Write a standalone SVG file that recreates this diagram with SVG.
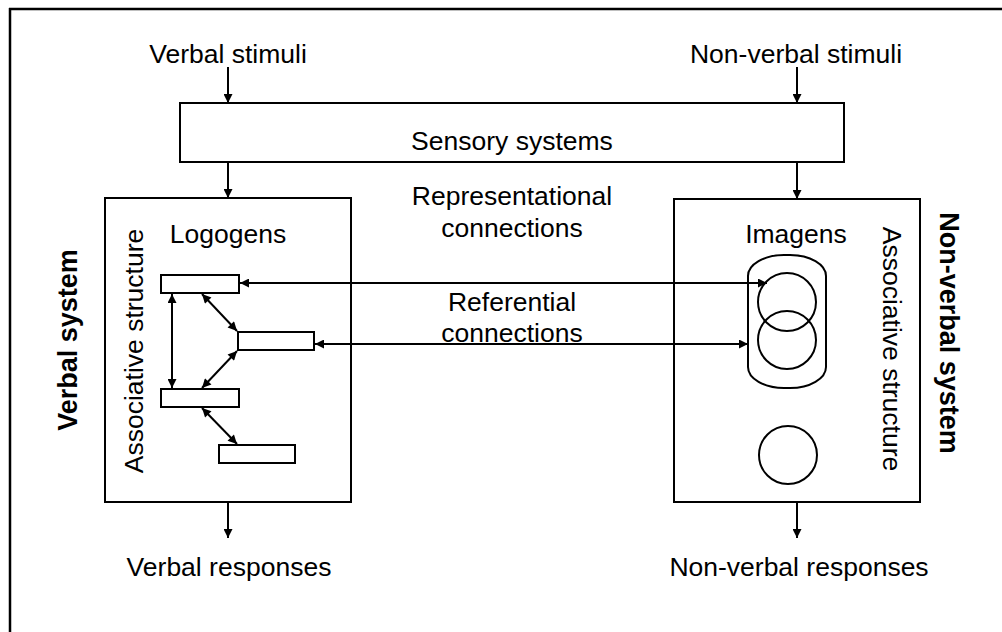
<svg xmlns="http://www.w3.org/2000/svg" width="1002" height="632" viewBox="0 0 1002 632">
<defs>
<style>
.t{font-family:"Liberation Sans",Arial,sans-serif;font-size:26.5px;fill:#000;text-anchor:middle}
.b{font-weight:bold;font-size:27px}
.box{fill:#fff;stroke:#000;stroke-width:2}
.thin{fill:none;stroke:#000;stroke-width:2}
.c{stroke:#000;stroke-width:2;fill:none}
</style>
<marker id="ah" viewBox="0 0 10 10" refX="10" refY="5" markerWidth="10" markerHeight="9" markerUnits="userSpaceOnUse" orient="auto-start-reverse">
<path d="M0,0 L10,5 L0,10 Z" fill="#000"/>
</marker>
</defs>
<rect x="0" y="0" width="1002" height="632" fill="#fff"/>
<g id="frame">
<line x1="9" y1="9" x2="1002" y2="9" stroke="#000" stroke-width="2.5"/>
<line x1="10" y1="8" x2="10" y2="632" stroke="#000" stroke-width="2.5"/>
</g>
<g id="labels-io">
<text class="t" x="228" y="63">Verbal stimuli</text>
<text class="t" x="796" y="63">Non-verbal stimuli</text>
<text class="t" x="229" y="576">Verbal responses</text>
<text class="t" x="799" y="576">Non-verbal responses</text>
</g>
<g id="sensory">
<rect class="box" x="180" y="103" width="664" height="59"/>
<text class="t" x="512" y="150">Sensory systems</text>
</g>
<g id="verbal-system">
<rect class="box" x="105" y="198" width="246" height="304"/>
<text class="t b" transform="translate(77,340) rotate(-90)">Verbal system</text>
<text class="t" transform="translate(143,351) rotate(-90)">Associative structure</text>
<text class="t" x="228" y="243">Logogens</text>
</g>
<g id="logogen1"><rect class="box" x="161" y="275" width="78" height="18"/></g>
<g id="logogen2"><rect class="box" x="238" y="332" width="76" height="18"/></g>
<g id="logogen3"><rect class="box" x="161" y="389" width="78" height="18"/></g>
<g id="logogen4"><rect class="box" x="219" y="445" width="76" height="18"/></g>
<g id="nonverbal-system">
<rect class="box" x="674" y="199" width="246" height="303"/>
<text class="t b" transform="translate(940,333) rotate(90)">Non-verbal system</text>
<text class="t" transform="translate(883,349) rotate(90)">Associative structure</text>
<text class="t" x="796" y="243">Imagens</text>
</g>
<g id="imagen-group">
<rect class="thin" x="748" y="255" width="78" height="133" rx="36" ry="21"/>
<circle class="thin" cx="787" cy="302" r="29"/>
<circle class="thin" cx="787" cy="340" r="29"/>
</g>
<g id="imagen-single">
<circle class="thin" cx="788" cy="455" r="29"/>
</g>
<g id="middle-labels">
<text class="t" x="512" y="205">Representational</text>
<text class="t" x="512" y="237">connections</text>
<text class="t" x="512" y="311">Referential</text>
<text class="t" x="512" y="342">connections</text>
</g>
<g id="connectors">
<line class="c" x1="228" y1="67" x2="228" y2="103" marker-end="url(#ah)"/>
<line class="c" x1="797" y1="67" x2="797" y2="103" marker-end="url(#ah)"/>
<line class="c" x1="228" y1="162" x2="228" y2="198" marker-end="url(#ah)"/>
<line class="c" x1="797" y1="162" x2="797" y2="199" marker-end="url(#ah)"/>
<line class="c" x1="228" y1="502" x2="228" y2="538" marker-end="url(#ah)"/>
<line class="c" x1="797" y1="502" x2="797" y2="538" marker-end="url(#ah)"/>
<line class="c" x1="172" y1="294" x2="172" y2="388" marker-start="url(#ah)" marker-end="url(#ah)"/>
<line class="c" x1="202" y1="294" x2="237" y2="331" marker-start="url(#ah)" marker-end="url(#ah)"/>
<line class="c" x1="237" y1="351" x2="202" y2="388" marker-start="url(#ah)" marker-end="url(#ah)"/>
<line class="c" x1="202" y1="408" x2="237" y2="444" marker-start="url(#ah)" marker-end="url(#ah)"/>
<line class="c" x1="240" y1="283" x2="767" y2="283" marker-start="url(#ah)" marker-end="url(#ah)"/>
<line class="c" x1="315" y1="344" x2="748" y2="344" marker-start="url(#ah)" marker-end="url(#ah)"/>
</g>
</svg>
